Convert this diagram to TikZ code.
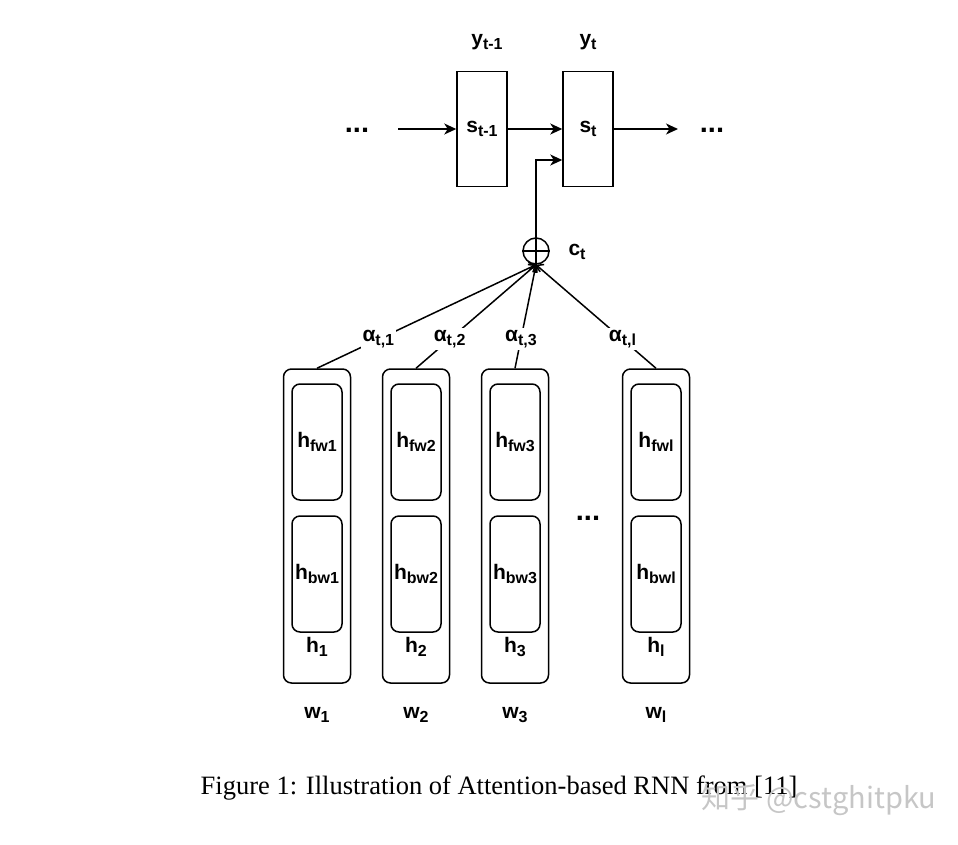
\documentclass[tikz,border=0pt]{standalone}
\usepackage{fontspec}
\setmainfont{Liberation Sans}
\newfontfamily\capfont{Liberation Serif}
\newfontfamily\cjkfont{Noto Sans CJK SC}
\usetikzlibrary{arrows.meta}
\newcommand\sbs[1]{\raisebox{-4.5pt}{\fontsize{16}{16}\selectfont\bfseries #1}}
\tikzset{
  lbl/.style={font=\fontsize{21}{24}\selectfont\bfseries, inner sep=1pt},
  dots/.style={font=\fontsize{29}{30}\selectfont\bfseries, inner sep=1pt},
  weight/.style={lbl, fill=white, inner sep=2pt},
  cell/.style={lbl, draw, line width=1.5pt, minimum width=50pt, minimum height=115pt},
  hidden/.style={draw, line width=1.5pt, rounded corners=8pt, minimum width=67pt, minimum height=314pt},
  part/.style={lbl, draw, line width=1.5pt, rounded corners=8pt, minimum width=50pt, minimum height=116pt},
  flow/.style={line width=1.5pt, -{Stealth[length=12pt,width=11pt,inset=3.5pt]}},
  attn/.style={line width=1.5pt, -{Straight Barb[length=5pt,width=11pt]}}
}
\begin{document}
\begin{tikzpicture}[x=1pt,y=-1pt]
  \useasboundingbox (0,0) rectangle (958,844);
  % decoder states
  \node[cell] (s1) at (482,129) {s\sbs{t-1}};
  \node[cell] (st) at (588,129) {s\sbs{t}};
  \node[lbl] (y1) at (487,42) {y\sbs{t-1}};
  \node[lbl] (yt) at (588,42) {y\sbs{t}};
  \node[dots] (dl) at (357,130) {...};
  \node[dots] (dr) at (712,130) {...};
  \coordinate (inl) at (398,129);
  \coordinate (outr) at (678,129);
  \draw[flow] (inl) -- (s1);
  \draw[flow] (s1) -- (st);
  \draw[flow] (st) -- (outr);
  % context vector
  \node[draw, circle, line width=1.5pt, minimum size=26pt, inner sep=0pt] (c) at (536,251) {};
  \draw[line width=1.2pt] (c.north) -- (c.south) (c.west) -- (c.east);
  \node[lbl] (ct) at (577,252) {c\sbs{t}};
  \draw[flow] (c.north) |- ([yshift=-31pt]st.west);
  % encoder
  \foreach \i/\x/\n in {1/317/1,2/416/2,3/515/3,4/656/l}{
    \node[hidden] (h\i) at (\x,526) {};
    \node[part] (fw\i) at (\x,442) {h\sbs{fw\n}};
    \node[part] (bw\i) at (\x,574) {h\sbs{bw\n}};
    \node[lbl] (hl\i) at (\x,647) {h\sbs{\n}};
    \node[lbl] (w\i) at (\x,715) {w\sbs{\n}};
    \draw[attn] (h\i.north) -- node[weight, pos=0.28] (a\i) {α\sbs{t,\n}} (c.south);
  }
  \node[dots] (dm) at (588,518) {...};
  % caption
  \node[font=\capfont\fontsize{26.5}{30}\selectfont] (cap) at (499,788) {Figure 1: Illustration of Attention-based RNN from [11]};
  \node[font=\cjkfont\fontsize{29}{32}\selectfont, text=gray!45] (wm) at (819,800) {知乎 @cstghitpku};
\end{tikzpicture}
\end{document}
